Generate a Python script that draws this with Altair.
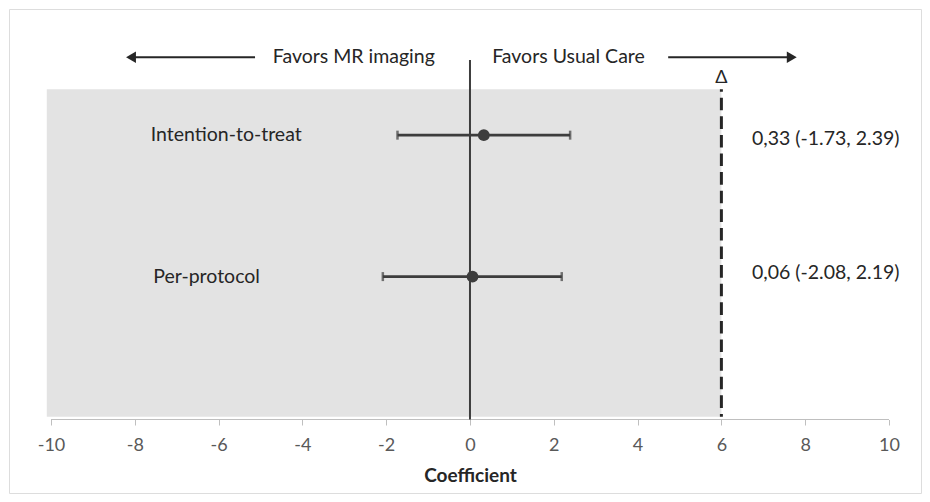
import altair as alt
import pandas as pd

# ---- data ----
groups = ["Intention-to-treat", "Per-protocol"]
estimates = [0.33, 0.06]
lower = [-1.73, -2.08]
upper = [2.39, 2.19]
row_pos = [8.6, 4.28]          # vertical position of each row (arbitrary row units)
summary_pos = [8.48, 4.39]
summaries = ["0,33 (-1.73, 2.39)", "0,06 (-2.08, 2.19)"]
label_x = [-7.62, -7.56]
summary_x = [6.73, 6.73]

x_ticks = [-10, -8, -6, -4, -2, 0, 2, 4, 6, 8, 10]
margin_delta = 6               # non-inferiority margin
band_left = -10.1
band_bottom, band_top = 0, 10
axis_level = -0.085
zero_top = 10.895
arrow_level = 10.98
delta_level = 10.345

arrow_left = [-5.13, -8.09]    # line start, head position
arrow_right = [4.73, 7.68]
favor_text = ["Favors MR imaging", "Favors Usual Care"]
favor_x = [-0.84, 0.53]

FONT = "Lato"
DARK = "#262626"
MARK = "#3d3d3d"
FS = 19.5

xs = alt.Scale(domain=[-11.002, 10.764], nice=False, zero=False)
ys = alt.Scale(domain=[-2.33, 12.453], nice=False, zero=False)

df = pd.DataFrame({
    "group": groups, "est": estimates, "lo": lower, "hi": upper,
    "row": row_pos, "srow": summary_pos, "summary": summaries,
    "lx": label_x, "sx": summary_x,
})

band_df = pd.DataFrame({"x": [band_left], "x2": [margin_delta], "y": [band_bottom], "y2": [band_top]})
band = alt.Chart(band_df).mark_rect(color="#e3e3e3").encode(
    x=alt.X("x:Q", scale=xs, axis=alt.Axis(
        values=x_ticks, domain=False, grid=False, offset=-73.5,
        tickSize=5.5, tickColor="#bfbfbf", tickWidth=1,
        labelExpr="datum.value + ''",
        labelFont=FONT, labelFontSize=18, labelColor="#595959", labelPadding=11.2,
        title="Coefficient", titleFont=FONT, titleFontSize=19, titleFontWeight="bold",
        titleColor=DARK, titleBaseline="top", titleY=47.3, titleX=461)),
    x2="x2:Q",
    y=alt.Y("y:Q", scale=ys, axis=None),
    y2="y2:Q",
)

axis_df = pd.DataFrame({"x": [x_ticks[0]], "x2": [x_ticks[-1]], "y": [axis_level]})
axis_line = alt.Chart(axis_df).mark_rule(color="#bfbfbf", strokeWidth=1.2).encode(
    x=alt.X("x:Q", scale=xs), x2="x2:Q", y=alt.Y("y:Q", scale=ys))

zero_df = pd.DataFrame({"x": [0], "y": [axis_level], "y2": [zero_top]})
zero_line = alt.Chart(zero_df).mark_rule(color=MARK, strokeWidth=2).encode(
    x=alt.X("x:Q", scale=xs), y=alt.Y("y:Q", scale=ys), y2="y2:Q")

margin_df = pd.DataFrame({"x": [margin_delta], "y": [band_top], "y2": [band_bottom]})
margin_line = alt.Chart(margin_df).mark_rule(
    color=DARK, strokeWidth=3, strokeDash=[12.6, 6], strokeDashOffset=10.2
).encode(x=alt.X("x:Q", scale=xs), y=alt.Y("y:Q", scale=ys), y2="y2:Q")

delta_df = pd.DataFrame({"x": [margin_delta], "y": [delta_level], "t": ["Δ"]})
delta = alt.Chart(delta_df).mark_text(font=FONT, fontSize=18, color=DARK, baseline="middle").encode(
    x=alt.X("x:Q", scale=xs), y=alt.Y("y:Q", scale=ys), text="t:N")

arrows_df = pd.DataFrame({
    "x": [arrow_left[0], arrow_right[0]], "x2": [arrow_left[1], arrow_right[1]],
    "y": [arrow_level, arrow_level]})
arrow_lines = alt.Chart(arrows_df).mark_rule(color=DARK, strokeWidth=2).encode(
    x=alt.X("x:Q", scale=xs), x2="x2:Q", y=alt.Y("y:Q", scale=ys))

heads_df = pd.DataFrame({"x": [arrow_left[1], arrow_right[1]], "y": [arrow_level, arrow_level],
                         "shape": ["triangle-left", "triangle-right"]})
arrow_heads = alt.Chart(heads_df).mark_point(filled=True, opacity=1, color=DARK, size=130).encode(
    x=alt.X("x:Q", scale=xs), y=alt.Y("y:Q", scale=ys),
    shape=alt.Shape("shape:N", scale=None))

favor_df = pd.DataFrame({"x": favor_x, "y": [arrow_level] * 2, "t": favor_text})
favor_l = alt.Chart(favor_df.iloc[[0]]).mark_text(font=FONT, fontSize=FS, color=DARK,
                                                  align="right", baseline="middle").encode(
    x=alt.X("x:Q", scale=xs), y=alt.Y("y:Q", scale=ys), text="t:N")
favor_r = alt.Chart(favor_df.iloc[[1]]).mark_text(font=FONT, fontSize=FS, color=DARK,
                                                  align="left", baseline="middle").encode(
    x=alt.X("x:Q", scale=xs), y=alt.Y("y:Q", scale=ys), text="t:N")

base = alt.Chart(df)
err = base.mark_rule(color=MARK, strokeWidth=2.6).encode(
    x=alt.X("lo:Q", scale=xs), x2="hi:Q", y=alt.Y("row:Q", scale=ys))
cap_lo = base.mark_tick(color=MARK, orient="vertical", size=9, thickness=2.5).encode(
    x=alt.X("lo:Q", scale=xs), y=alt.Y("row:Q", scale=ys))
cap_hi = base.mark_tick(color=MARK, orient="vertical", size=9, thickness=2.5).encode(
    x=alt.X("hi:Q", scale=xs), y=alt.Y("row:Q", scale=ys))
pts = base.mark_circle(color=MARK, opacity=1, size=140).encode(
    x=alt.X("est:Q", scale=xs), y=alt.Y("row:Q", scale=ys))
labels = base.mark_text(font=FONT, fontSize=FS, color=DARK, align="left", baseline="middle").encode(
    x=alt.X("lx:Q", scale=xs), y=alt.Y("row:Q", scale=ys), text="group:N")
sums = base.mark_text(font=FONT, fontSize=FS, color=DARK, align="left", baseline="middle").encode(
    x=alt.X("sx:Q", scale=xs), y=alt.Y("srow:Q", scale=ys), text="summary:N")

chart = alt.layer(
    band, axis_line, zero_line, margin_line, delta, arrow_lines, arrow_heads,
    favor_l, favor_r, err, cap_lo, cap_hi, pts, labels, sums
).properties(
    width=912, height=484,
    autosize=alt.AutoSizeParams(type="none"),
    padding=1,
).configure_view(
    stroke="#555555", strokeWidth=1
).configure(background="white")

chart.save("out.html", embed_options={"renderer": "svg", "actions": False})
